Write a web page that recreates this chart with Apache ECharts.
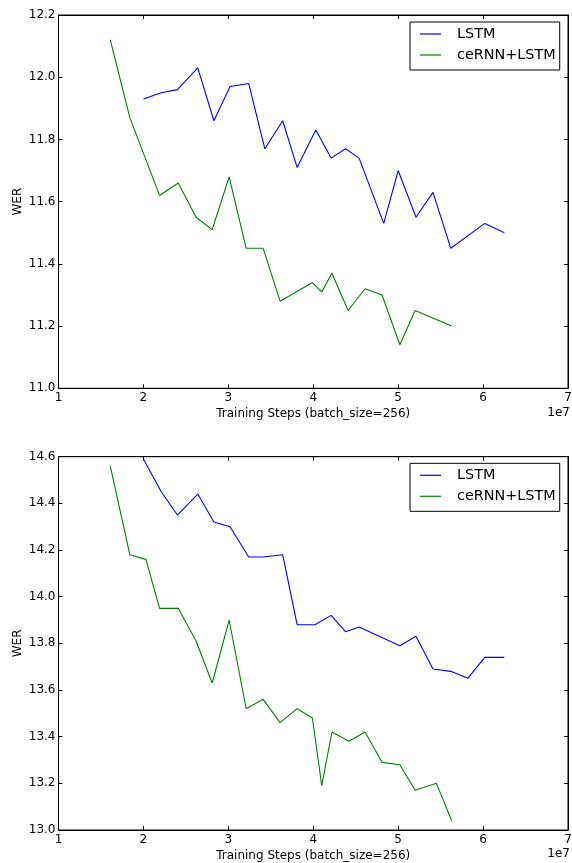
<!DOCTYPE html>
<html>
<head>
<meta charset="utf-8">
<script src="https://cdn.jsdelivr.net/npm/echarts@6/dist/echarts.min.js"></script>
<style>
html,body{margin:0;padding:0;background:#fff;}
#chart{width:572px;height:863px;}
</style>
</head>
<body>
<div id="chart"></div>
<script>
// x values in units of 1e7 training steps
const topLstmX = [2.00,2.21,2.40,2.64,2.83,3.02,3.24,3.43,3.64,3.81,4.03,4.21,4.38,4.54,4.83,5.00,5.21,5.41,5.62,6.02,6.25];
const topLstmY = [11.93,11.95,11.96,12.03,11.86,11.97,11.98,11.77,11.86,11.71,11.83,11.74,11.77,11.74,11.53,11.70,11.55,11.63,11.45,11.53,11.50];
const topCeX = [1.61,1.84,2.19,2.41,2.62,2.81,3.01,3.21,3.41,3.61,3.99,4.10,4.22,4.41,4.61,4.81,5.02,5.20,5.63];
const topCeY = [12.12,11.87,11.62,11.66,11.55,11.51,11.68,11.45,11.45,11.28,11.34,11.31,11.37,11.25,11.32,11.30,11.14,11.25,11.20];

const botLstmX = [2.00,2.21,2.40,2.64,2.83,3.02,3.24,3.41,3.64,3.81,4.02,4.21,4.38,4.54,5.02,5.21,5.41,5.62,5.82,6.02,6.25];
const botLstmY = [14.59,14.45,14.35,14.44,14.32,14.30,14.17,14.17,14.18,13.88,13.88,13.92,13.85,13.87,13.79,13.83,13.69,13.68,13.65,13.74,13.74];
const botCeX = [1.61,1.84,2.03,2.19,2.41,2.62,2.81,3.01,3.21,3.41,3.61,3.81,3.99,4.10,4.22,4.42,4.61,4.81,5.02,5.20,5.45,5.63];
const botCeY = [14.56,14.18,14.16,13.95,13.95,13.81,13.63,13.90,13.52,13.56,13.46,13.52,13.48,13.19,13.42,13.38,13.42,13.29,13.28,13.17,13.20,13.04];

const seriesNames = ['LSTM', 'ceRNN+LSTM'];
const xRange = {min: 1, max: 7, interval: 1};
const topYRange = {min: 11.0, max: 12.2, interval: 0.2};
const botYRange = {min: 13.0, max: 14.6, interval: 0.2};
const xLabel = 'Training Steps (batch_size=256)';
const yLabel = 'WER';
const offsetText = '1e7';

const FONT = 'DejaVu Sans';
const pairs = (xs, ys) => xs.map((x, i) => [x, ys[i]]);

const gridBase = {left: 58.5, width: 509.5, height: 373.3, show: true, borderColor: '#000', borderWidth: 1,
  containLabel: false, outerBoundsMode: 'none'};
const grids = [
  Object.assign({}, gridBase, {top: 15}),
  Object.assign({}, gridBase, {top: 456.7})
];

function mkX(gi, pos, labels) {
  return {
    type: 'value', gridIndex: gi, position: pos,
    min: xRange.min, max: xRange.max, interval: xRange.interval,
    name: labels ? xLabel : '', nameLocation: 'middle', nameGap: 20, nameMoveOverlap: false,
    nameTextStyle: {fontFamily: FONT, fontSize: 12, color: '#000'},
    axisLine: {show: true, onZero: false, lineStyle: {color: '#000', width: 1}},
    axisTick: {show: true, inside: true, length: 4, lineStyle: {color: '#000'}},
    axisLabel: {show: labels, margin: 4, fontFamily: FONT, fontSize: 12, color: '#000',
      formatter: v => String(Math.round(v))},
    splitLine: {show: false}
  };
}
function mkY(gi, pos, r, labels) {
  return {
    type: 'value', gridIndex: gi, position: pos,
    min: r.min, max: r.max, interval: r.interval,
    name: labels ? yLabel : '', nameLocation: 'middle', nameGap: 35, nameMoveOverlap: false,
    nameTextStyle: {fontFamily: FONT, fontSize: 12, color: '#000'},
    axisLine: {show: true, onZero: false, lineStyle: {color: '#000', width: 1}},
    axisTick: {show: true, inside: true, length: 4, lineStyle: {color: '#000'}},
    axisLabel: {show: labels, margin: 3, fontFamily: FONT, fontSize: 12, color: '#000',
      formatter: v => v.toFixed(1)},
    splitLine: {show: false}
  };
}

function mkSeries(name, xs, ys, color, gi) {
  return {
    type: 'line', name: name, data: pairs(xs, ys),
    xAxisIndex: gi * 2, yAxisIndex: gi * 2,
    symbol: 'none', showSymbol: false, animation: false,
    lineStyle: {color: color, width: 1.1}, itemStyle: {color: color},
    z: 3
  };
}

function mkLegend(top) {
  return {
    data: seriesNames.map(n => ({name: n, icon: 'rect'})), orient: 'vertical', left: 410, top: top,
    backgroundColor: '#fff', borderColor: '#000', borderWidth: 1,
    padding: [5, 4, 8, 10], itemGap: 7, itemWidth: 21, itemHeight: 1.2,
    selectedMode: false,
    textStyle: {fontFamily: FONT, fontSize: 14.4, color: '#000', padding: [0, 0, 0, 11], lineHeight: 14}
  };
}

const option = {
  animation: false,
  backgroundColor: '#fff',
  grid: grids,
  xAxis: [mkX(0, 'bottom', true), mkX(0, 'top', false), mkX(1, 'bottom', true), mkX(1, 'top', false)],
  yAxis: [mkY(0, 'left', topYRange, true), mkY(0, 'right', topYRange, false),
          mkY(1, 'left', botYRange, true), mkY(1, 'right', botYRange, false)],
  legend: [mkLegend(22), mkLegend(463.3)],
  series: [
    mkSeries(seriesNames[0], topLstmX, topLstmY, '#0000ff', 0),
    mkSeries(seriesNames[1], topCeX, topCeY, '#008000', 0),
    mkSeries(seriesNames[0], botLstmX, botLstmY, '#0000ff', 1),
    mkSeries(seriesNames[1], botCeX, botCeY, '#008000', 1)
  ],
  graphic: [
    {type: 'text', right: 2, top: 407, style: {text: offsetText, font: '12px "DejaVu Sans"', fill: '#000'}},
    {type: 'text', right: 2, top: 848, style: {text: offsetText, font: '12px "DejaVu Sans"', fill: '#000'}}
  ]
};

const chart = echarts.init(document.getElementById('chart'), null, {renderer: 'canvas'});
chart.setOption(option);
</script>
</body>
</html>
